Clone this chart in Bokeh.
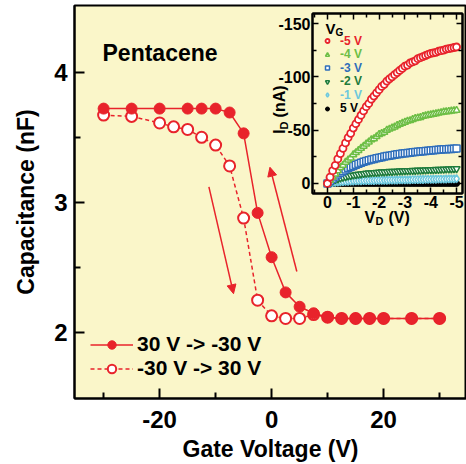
import math
from bokeh.plotting import figure
from bokeh.models import (Range1d, FixedTicker, LinearAxis, Legend, LegendItem,
                          Label, Arrow, NormalHead)
from bokeh.embed import file_html
from bokeh.resources import INLINE

# ---------------- main C-V data ----------------
gate_fwd = [-30, -25, -20, -15, -12.5, -10, -7.5, -5, -2.5, 0, 2.5, 5, 7.5, 10, 12.5, 15, 17.5, 20, 25, 30]
cap_fwd = [3.72, 3.72, 3.72, 3.72, 3.72, 3.72, 3.69, 3.53, 2.92, 2.58, 2.31, 2.20, 2.15, 2.12, 2.11, 2.11, 2.11, 2.11, 2.11, 2.11]
gate_rev = [-30, -25, -20, -17.5, -15, -12.5, -10, -7.5, -5, -2.5, 0, 2.5, 5, 7.5, 10, 12.5, 15, 17.5, 20, 25, 30]
cap_rev = [3.67, 3.66, 3.61, 3.58, 3.56, 3.50, 3.44, 3.28, 2.88, 2.25, 2.13, 2.11, 2.11, 2.14, 2.12, 2.11, 2.11, 2.11, 2.11, 2.11, 2.11]
labels_main = ["30 V -> -30 V", "-30 V -> 30 V"]
x_ticks_main = [-20, 0, 20]
y_ticks_main = [2, 3, 4]
arrow_down = [(-11.2, 3.12), (-6.8, 2.30)]
arrow_up = [(4.5, 2.47), (-0.3, 3.27)]

# ---------------- inset I-V data ----------------
vd = [0.0, -0.1, -0.2, -0.3, -0.4, -0.5, -0.6, -0.7, -0.8, -0.9, -1.0,
      -1.1, -1.2, -1.3, -1.4, -1.5, -1.6, -1.7, -1.8, -1.9, -2.0,
      -2.1, -2.2, -2.3, -2.4, -2.5, -2.6, -2.7, -2.8, -2.9, -3.0,
      -3.1, -3.2, -3.3, -3.4, -3.5, -3.6, -3.7, -3.8, -3.9, -4.0,
      -4.1, -4.2, -4.3, -4.4, -4.5, -4.6, -4.7, -4.8, -4.9, -5.0]
id_m5 = [0, -6, -12, -17, -23, -28, -33, -38, -43, -47, -52,
         -56, -60, -64, -68, -72, -75, -79, -82, -85, -88,
         -91, -93, -96, -98, -100, -102, -104, -106, -108, -110,
         -111, -113, -114, -115, -117, -118, -119, -120, -121, -122,
         -122.5, -123, -124, -124.5, -125, -126, -126.5, -127, -127.5, -128]
id_m4 = [0, -3, -6, -9, -12, -15, -17, -20, -22, -24, -27,
         -29, -31, -33, -35, -37, -39, -41, -42, -44, -46,
         -47, -48, -50, -51, -52, -53, -54.5, -55.5, -56.5, -57.5,
         -58.5, -59, -60, -61, -61.5, -62, -63, -63.5, -64, -64.5,
         -65, -65.5, -66, -66.5, -67, -67.3, -67.6, -68, -68.3, -68.6]
id_m3 = [0, -2.5, -4.5, -6.5, -8.5, -10, -11.5, -13, -14.5, -15.5, -16.5,
         -17.5, -18.5, -19.5, -20.3, -21, -21.7, -22.4, -23, -23.6, -24.2,
         -24.7, -25.2, -25.7, -26.1, -26.5, -26.9, -27.3, -27.6, -28, -28.3,
         -28.6, -28.9, -29.2, -29.5, -29.8, -30, -30.3, -30.5, -30.7, -31,
         -31.2, -31.4, -31.6, -31.8, -32, -32.1, -32.3, -32.4, -32.6, -32.7]
id_m2 = [0, -1.2, -2.3, -3.3, -4.2, -5, -5.7, -6.3, -6.9, -7.4, -7.8,
         -8.2, -8.6, -8.9, -9.2, -9.5, -9.7, -9.9, -10.1, -10.3, -10.5,
         -10.7, -10.8, -11, -11.1, -11.2, -11.3, -11.5, -11.6, -11.7, -11.8,
         -11.9, -12, -12.1, -12.2, -12.3, -12.4, -12.5, -12.6, -12.7, -12.8,
         -12.9, -13, -13.1, -13.2, -13.3, -13.4, -13.5, -13.6, -13.7, -13.8]
id_m1 = [0, -0.4, -0.8, -1.1, -1.4, -1.6, -1.8, -2.0, -2.1, -2.2, -2.3,
         -2.4, -2.5, -2.55, -2.6, -2.65, -2.7, -2.75, -2.8, -2.85, -2.9,
         -2.95, -3.0, -3.05, -3.1, -3.15, -3.2, -3.25, -3.3, -3.35, -3.4,
         -3.45, -3.5, -3.55, -3.6, -3.65, -3.7, -3.75, -3.8, -3.85, -3.9,
         -3.95, -4.0, -4.05, -4.1, -4.15, -4.2, -4.25, -4.3, -4.35, -4.4]
id_p5 = [0, 0, 0, 0, 0, 0, 0, 0, 0, 0, 0,
         0, 0, 0, 0, 0, 0, 0, 0, 0, 0,
         0, 0, 0, 0, 0, 0, 0, 0, 0, 0,
         0, 0, 0, 0, 0, 0, 0, 0, 0, 0,
         0, 0, 0, 0, 0, 0, 0, 0, 0, 0]
vg_labels = ["-5 V", "-4 V", "-3 V", "-2 V", "-1 V", "5 V"]
x_ticks_inset = [0, -1, -2, -3, -4, -5]
y_ticks_inset = [0, -50, -100, -150]

FONT = "Liberation Sans"
RED = "#E8232B"
BG = "#FAF6C9"
C_M4 = "#6DBE45"
C_M3 = "#2F6EBA"
C_M2 = "#1E7B3C"
C_M1 = "#6CC8DD"


def hyphen_labels(ticks):
    return {t: str(t) for t in ticks}


def blank_labels(ticks):
    return {t: "" for t in ticks}


# ---------------- main figure ----------------
p = figure(width=466, height=464, output_backend="svg", toolbar_location=None,
           x_range=Range1d(-35.2, 34.8), y_range=Range1d(1.496, 4.511),
           min_border_left=74, min_border_right=0, min_border_top=5, min_border_bottom=64,
           background_fill_color=BG, border_fill_color="white")
p.grid.visible = False
p.outline_line_color = "black"
p.outline_line_width = 2

p.xaxis.ticker = FixedTicker(ticks=x_ticks_main, minor_ticks=[-30, -10, 10, 30])
p.yaxis.ticker = FixedTicker(ticks=y_ticks_main, minor_ticks=[2.5, 3.5])
p.xaxis.major_label_overrides = hyphen_labels(x_ticks_main)
p.yaxis.major_label_overrides = hyphen_labels(y_ticks_main)
p.xaxis.axis_label = "Gate Voltage (V)"
p.yaxis.axis_label = "Capacitance (nF)"
for ax in (p.xaxis[0], p.yaxis[0]):
    ax.axis_line_width = 2
    ax.major_tick_in = 10
    ax.major_tick_out = 0
    ax.minor_tick_in = 6
    ax.minor_tick_out = 0
    ax.major_tick_line_width = 2
    ax.minor_tick_line_width = 2
    ax.major_label_text_font = FONT
    ax.major_label_text_font_style = "bold"
    ax.major_label_text_font_size = "24px"
    ax.major_label_text_color = "black"
    ax.axis_label_text_font = FONT
    ax.axis_label_text_font_style = "bold"
    ax.axis_label_text_font_size = "23px"
    ax.axis_label_text_color = "black"
p.xaxis.major_label_standoff = 12
p.xaxis.axis_label_standoff = 5
p.yaxis.major_label_standoff = 7
p.yaxis.axis_label_standoff = 12

r_rev_line = p.line(gate_rev, cap_rev, line_color=RED, line_width=1.5, line_dash="4 3")
r_rev_pts = p.scatter(gate_rev, cap_rev, marker="circle", size=11, fill_color="white",
                      line_color=RED, line_width=2)
r_fwd_line = p.line(gate_fwd, cap_fwd, line_color=RED, line_width=1.5)
r_fwd_pts = p.scatter(gate_fwd, cap_fwd, marker="circle", size=11, fill_color=RED,
                      line_color=RED, line_width=1)

for (xs, ys), (xe, ye) in (arrow_down, arrow_up):
    p.add_layout(Arrow(x_start=xs, y_start=ys, x_end=xe, y_end=ye, line_color=RED,
                       line_width=1.5,
                       end=NormalHead(size=9, fill_color=RED, line_color=RED)))

p.add_layout(Label(x=-30.2, y=4.15, text="Pentacene", text_font=FONT,
                   text_font_style="bold", text_font_size="23px", text_baseline="middle",
                   text_color="black"))

leg = Legend(items=[LegendItem(label=labels_main[0], renderers=[r_fwd_line, r_fwd_pts]),
                    LegendItem(label=labels_main[1], renderers=[r_rev_line, r_rev_pts])],
             location=(16, 18), glyph_width=43, glyph_height=21, label_height=21,
             label_standoff=4, spacing=0, padding=0, margin=0, border_line_color=None,
             background_fill_alpha=0, label_text_font=FONT, label_text_font_style="bold",
             label_text_font_size="21px", label_text_color="black")
p.add_layout(leg)


# inset axis titles live on the main canvas (they sit over the main frame)
def mx(px):
    return -35.2 + (px - 74) / 5.6


def my(py):
    return 4.511 - (py - 5) / 131.0


def mlab(x, y, t, size, **kw):
    p.add_layout(Label(x=x, y=y, text=t, text_font=FONT, text_font_style="bold",
                       text_font_size=size, text_color="black", **kw))


mlab(mx(364), my(218), "V", "16px", text_baseline="middle")
mlab(mx(375), my(222), "D", "11px", text_baseline="middle")
mlab(mx(388), my(218), "(V)", "16px", text_baseline="middle")
mlab(mx(279), my(134), "I", "16px", text_baseline="middle", angle=math.pi / 2)
mlab(mx(283), my(129.5), "D", "11px", text_baseline="middle", angle=math.pi / 2)
mlab(mx(279), my(117.5), "(nA)", "16px", text_baseline="middle", angle=math.pi / 2)

# ---------------- inset figure ----------------
q = figure(width=196, height=220, output_backend="svg", toolbar_location=None,
           x_range=Range1d(0.58, -5.23), y_range=Range1d(9.4, -159.4),
           min_border_left=42, min_border_right=4, min_border_top=5, min_border_bottom=35,
           background_fill_color=BG, border_fill_color=None)
q.grid.visible = False
q.outline_line_color = "black"
q.outline_line_width = 2

q.add_layout(LinearAxis(), "above")
q.add_layout(LinearAxis(), "right")
for ax in q.xaxis:
    ax.ticker = FixedTicker(ticks=x_ticks_inset,
                            minor_ticks=[0.5, -0.5, -1.5, -2.5, -3.5, -4.5])
for ax in q.yaxis:
    ax.ticker = FixedTicker(ticks=y_ticks_inset, minor_ticks=[-25, -75, -125])
for ax in list(q.xaxis) + list(q.yaxis):
    ax.axis_line_width = 2
    ax.major_tick_in = 6
    ax.major_tick_out = 0
    ax.minor_tick_in = 4
    ax.minor_tick_out = 0
    ax.major_tick_line_width = 1.5
    ax.minor_tick_line_width = 1.5
    ax.major_label_text_font = FONT
    ax.major_label_text_font_style = "bold"
    ax.major_label_text_font_size = "16px"
    ax.major_label_text_color = "black"
    ax.major_label_standoff = 2
q.below[0].major_label_overrides = hyphen_labels(x_ticks_inset)
q.left[0].major_label_overrides = hyphen_labels(y_ticks_inset)
# mirror axes: ticks only
q.above[0].major_label_overrides = blank_labels(x_ticks_inset)
q.above[0].major_label_text_font_size = "0px"
q.above[0].major_label_standoff = 0
q.right[0].major_label_overrides = blank_labels(y_ticks_inset)
q.right[0].major_label_text_font_size = "0px"
q.right[0].major_label_standoff = 0

r_p5 = q.scatter(vd, id_p5, marker="circle", size=6, fill_color="black", line_color="black")
r_m1 = q.scatter(vd, id_m1, marker="diamond", size=8, fill_color="white", line_color=C_M1, line_width=1.5)
r_m2 = q.scatter(vd, id_m2, marker="inverted_triangle", size=7, fill_color="white", line_color=C_M2, line_width=1.5)
r_m3 = q.scatter(vd, id_m3, marker="square", size=7, fill_color="white", line_color=C_M3, line_width=1.5)
r_m4 = q.scatter(vd, id_m4, marker="triangle", size=7, fill_color="white", line_color=C_M4, line_width=1.5)
r_m5 = q.scatter(vd, id_m5, marker="circle", size=7, fill_color="white", line_color=RED, line_width=1.8)

# inset legend (one per entry so each label keeps its colour)
rows = [(r_m5, RED), (r_m4, C_M4), (r_m3, C_M3), (r_m2, C_M2), (r_m1, C_M1), (r_p5, "black")]
row_centres = [41, 54.5, 68, 81.5, 95, 108.5]  # page px
for (rend, col), lab, yc in zip(rows, vg_labels, row_centres):
    lg = Legend(items=[LegendItem(label=lab, renderers=[rend])],
                location=(10, 193 - yc - 6.5), glyph_width=10, glyph_height=13,
                label_height=13, label_standoff=8, padding=0, margin=0, spacing=0,
                border_line_color=None, background_fill_alpha=0, label_text_font=FONT,
                label_text_font_style="bold", label_text_font_size="12px",
                label_text_color=col)
    q.add_layout(lg)


def ix(px):
    return -(px - 327) / 25.8


def iy(py):
    return -(183 - py) / 1.0667


q.add_layout(Label(x=ix(325), y=iy(28), text="V", text_font=FONT, text_font_style="bold",
                   text_font_size="15px", text_color="black", text_baseline="middle"))
q.add_layout(Label(x=ix(335), y=iy(32), text="G", text_font=FONT, text_font_style="bold",
                   text_font_size="10px", text_color="black", text_baseline="middle"))

q.styles = {"position": "absolute", "left": "270px", "top": "8px"}

open("out.html", "w").write(file_html((p, q), INLINE))
